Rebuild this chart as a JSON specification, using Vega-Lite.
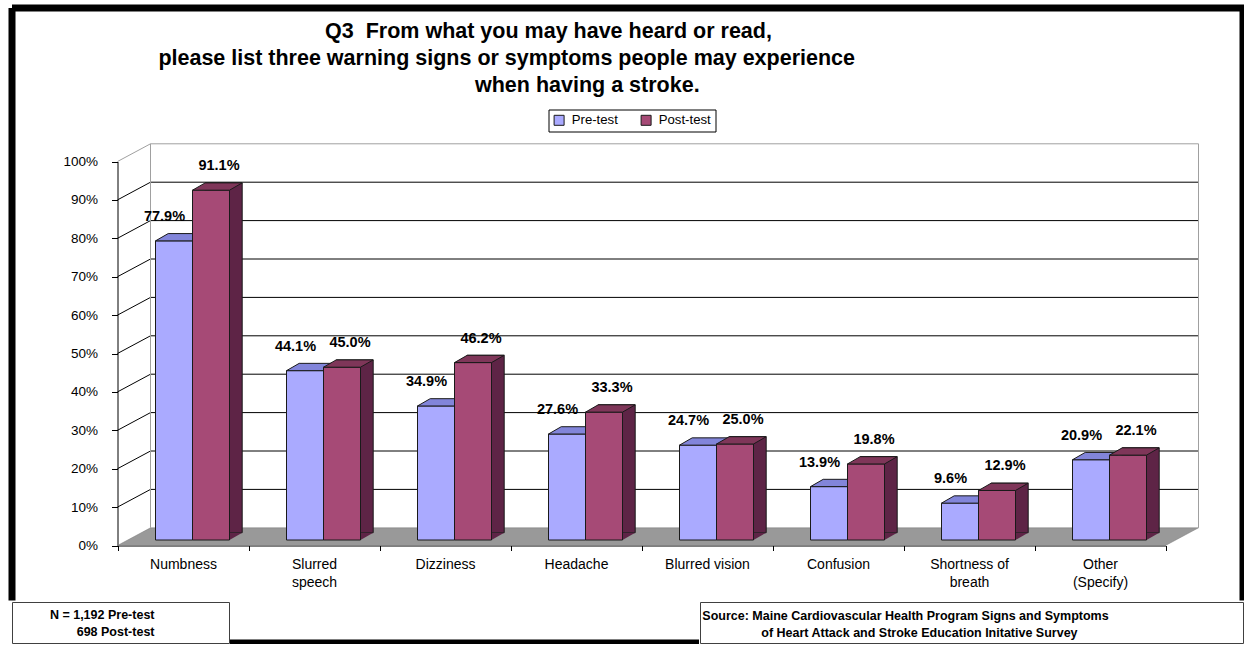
{
  "$schema": "https://vega.github.io/schema/vega-lite/v6.json",
  "background": "white",
  "padding": {"left": 8, "top": 4, "right": 0, "bottom": 0},
  "config": {"font": "Liberation Sans", "view": {"stroke": null}},
  "spacing": 0,
  "vconcat": [
    {
      "width": 1231,
      "height": 589,
      "view": {"fill": "white", "stroke": "black", "strokeWidth": 7, "strokeDash": [1823.5, 1224, 592.5, 0]},
      "title": {
        "text": [
          "Q3\u00a0 From what you may have heard or read,",
          "please list three warning signs or symptoms people may experience\u00a0\u00a0\u00a0\u00a0\u00a0\u00a0\u00a0\u00a0\u00a0\u00a0\u00a0\u00a0\u00a0\u00a0\u200b",
          "\u200b\u00a0\u00a0\u00a0\u00a0\u00a0\u00a0\u00a0\u00a0\u00a0\u00a0\u00a0\u00a0\u00a0when having a stroke."
        ],
        "frame": "group",
        "anchor": "middle",
        "orient": "top",
        "baseline": "top",
        "offset": -88,
        "dx": -79,
        "lineHeight": 27,
        "font": "Liberation Sans",
        "fontSize": 21.5,
        "fontWeight": "bold",
        "color": "black"
      },
      "layer": [
        {
          "data": {"values": [{"k": 1}]},
          "mark": {"type": "point", "shape": "M0,0 L33,-17.7 L1081,-17.7 L1048,0 Z", "size": 4, "filled": true, "fill": "#999999", "stroke": "#777777", "strokeWidth": 0.5, "opacity": 1},
          "encoding": {
            "x": {"datum": "Numbness", "bandPosition": 0, "type": "nominal", "scale": {"domain": ["Numbness", "Slurred speech", "Dizziness", "Headache", "Blurred vision", "Confusion", "Shortness of breath", "Other (Specify)"], "range": [105.5, 1153.5], "paddingInner": 0, "paddingOuter": 0}},
            "y": {"datum": 0, "type": "quantitative", "scale": {"domain": [0, 1], "range": [537.5, 153.5], "nice": false}}
          }
        },
        {
          "data": {"values": [{"pct": 0.1}, {"pct": 0.2}, {"pct": 0.3}, {"pct": 0.4}, {"pct": 0.5}, {"pct": 0.6}, {"pct": 0.7}, {"pct": 0.8}, {"pct": 0.9}, {"pct": 1.0}]},
          "mark": {"type": "rule", "xOffset": 33, "x2Offset": 33, "yOffset": -17.7, "strokeWidth": 1},
          "encoding": {
            "x": {"datum": "Numbness", "bandPosition": 0, "type": "nominal"},
            "x2": {"datum": "Other (Specify)", "bandPosition": 1},
            "y": {"field": "pct", "type": "quantitative"},
            "color": {"condition": {"test": "datum.pct >= 1", "value": "#a0a0a0"}, "value": "black"}
          }
        },
        {
          "data": {"values": [{"pct": 0.1}, {"pct": 0.2}, {"pct": 0.3}, {"pct": 0.4}, {"pct": 0.5}, {"pct": 0.6}, {"pct": 0.7}, {"pct": 0.8}, {"pct": 0.9}, {"pct": 1.0}]},
          "mark": {"type": "rule", "x2Offset": 33, "y2Offset": -17.7, "strokeWidth": 1},
          "encoding": {
            "x": {"datum": "Numbness", "bandPosition": 0, "type": "nominal"},
            "x2": {"datum": "Numbness", "bandPosition": 0},
            "y": {"field": "pct", "type": "quantitative"},
            "y2": {"field": "pct"},
            "color": {"condition": {"test": "datum.pct >= 1", "value": "#a0a0a0"}, "value": "black"}
          }
        },
        {
          "data": {"values": [{"k": 1}]},
          "mark": {"type": "rule", "xOffset": 33, "yOffset": -17.7, "y2Offset": -17.7, "color": "#a0a0a0", "strokeWidth": 1},
          "encoding": {
            "x": {"datum": "Numbness", "bandPosition": 0, "type": "nominal"},
            "y": {"datum": 0, "type": "quantitative"},
            "y2": {"datum": 1}
          }
        },
        {
          "data": {"values": [{"k": 1}]},
          "mark": {"type": "rule", "xOffset": 33, "yOffset": -17.7, "y2Offset": -17.7, "color": "#a0a0a0", "strokeWidth": 1},
          "encoding": {
            "x": {"datum": "Other (Specify)", "bandPosition": 1, "type": "nominal"},
            "y": {"datum": 0, "type": "quantitative"},
            "y2": {"datum": 1}
          }
        },
        {
          "data": {"name": "bars"},
          "transform": [{"filter": "datum.series == 'Pre-test'"}],
          "mark": {"type": "bar", "width": 37, "xOffset": -9, "yOffset": -5.5, "y2Offset": -5.5, "stroke": "#1a1a1a", "strokeWidth": 1},
          "encoding": {
            "x": {
              "field": "cat", "type": "nominal", "sort": null,
              "axis": {
                "title": null, "labelAngle": 0, "labelAlign": "center", "labelBaseline": "top", "domainColor": "black", "domainWidth": 1, "tickColor": "black", "tickSize": 5, "tickBand": "extent",
                "labelFont": "Liberation Sans", "labelFontSize": 14, "labelColor": "black", "labelPadding": 7, "labelLineHeight": 18, "labelOverlap": false,
                "labelExpr": "datum.label == 'Slurred speech' ? ['Slurred', 'speech'] : datum.label == 'Shortness of breath' ? ['Shortness of', 'breath'] : datum.label == 'Other (Specify)' ? ['Other', '(Specify)'] : datum.label",
                "offset": -51.5, "grid": false
              }
            },
            "y": {
              "field": "value", "type": "quantitative",
              "axis": {
                "title": null, "format": ".0%", "values": [0, 0.1, 0.2, 0.3, 0.4, 0.5, 0.6, 0.7, 0.8, 0.9, 1.0],
                "domainColor": "black", "tickColor": "black", "tickSize": 6, "labelPadding": 14,
                "labelFont": "Liberation Sans", "labelFontSize": 13.5, "labelColor": "black", "offset": -105.5, "grid": false
              }
            },
            "color": {
              "field": "series", "type": "nominal",
              "scale": {"domain": ["Pre-test", "Post-test"], "range": ["#AAAAFF", "#A64A76"]},
              "legend": {
                "orient": "none", "legendX": 536.5, "legendY": 101.5, "direction": "horizontal", "title": null,
                "strokeColor": "black", "fillColor": "white", "padding": 4,
                "symbolType": "square", "symbolSize": 100, "symbolStrokeColor": "black", "symbolStrokeWidth": 1, "symbolOpacity": 1,
                "labelFont": "Liberation Sans", "labelFontSize": 13.2, "labelColor": "black", "labelOffset": 6, "columnPadding": 20
              }
            }
          }
        },
        {
          "data": {"name": "bars"},
          "transform": [{"filter": "datum.series == 'Pre-test'"}],
          "mark": {"type": "point", "shape": "M-18.5,0 L18.5,0 L31.2,-7.3 L-5.8,-7.3 Z", "size": 4, "filled": true, "fill": "#8285DA", "stroke": "#1a1a1a", "strokeWidth": 1, "opacity": 1, "xOffset": -9, "yOffset": -5.5},
          "encoding": {
            "x": {"field": "cat", "type": "nominal"},
            "y": {"field": "value", "type": "quantitative"}
          }
        },
        {
          "data": {"name": "bars"},
          "transform": [{"filter": "datum.series == 'Post-test'"}],
          "mark": {"type": "bar", "width": 37, "xOffset": 40.7, "yOffset": -12.8, "y2Offset": -12.8, "fill": "#5E2446", "stroke": "#1a1a1a", "strokeWidth": 1},
          "encoding": {
            "x": {"field": "cat", "type": "nominal"},
            "y": {"field": "value", "type": "quantitative"}
          }
        },
        {
          "data": {"name": "bars"},
          "transform": [{"filter": "datum.series == 'Post-test'"}],
          "mark": {"type": "point", "shape": "M0,0 L0,-7.3 L12.7,-7.3 Z", "size": 4, "filled": true, "fill": "#5E2446", "strokeWidth": 0, "opacity": 1, "xOffset": 46.5, "yOffset": -5.5},
          "encoding": {
            "x": {"field": "cat", "type": "nominal"},
            "y": {"datum": 0, "type": "quantitative"}
          }
        },
        {
          "data": {"name": "bars"},
          "transform": [{"filter": "datum.series == 'Post-test'"}],
          "mark": {"type": "bar", "width": 37, "xOffset": 28, "yOffset": -5.5, "y2Offset": -5.5, "stroke": "#1a1a1a", "strokeWidth": 1},
          "encoding": {
            "x": {"field": "cat", "type": "nominal"},
            "y": {"field": "value", "type": "quantitative"},
            "color": {"field": "series", "type": "nominal"}
          }
        },
        {
          "data": {"name": "bars"},
          "transform": [{"filter": "datum.series == 'Post-test'"}],
          "mark": {"type": "point", "shape": "M-18.5,0 L18.5,0 L31.2,-7.3 L-5.8,-7.3 Z", "size": 4, "filled": true, "fill": "#7F3659", "stroke": "#1a1a1a", "strokeWidth": 1, "opacity": 1, "xOffset": 28, "yOffset": -5.5},
          "encoding": {
            "x": {"field": "cat", "type": "nominal"},
            "y": {"field": "value", "type": "quantitative"}
          }
        },
        {
          "data": {"name": "bars"},
          "transform": [{"filter": "datum.series == 'Pre-test'"}],
          "mark": {"type": "text", "xOffset": -18.5, "yOffset": -29.5, "baseline": "middle", "align": "center", "font": "Liberation Sans", "fontSize": 14.5, "fontWeight": "bold", "color": "black"},
          "encoding": {
            "x": {"field": "cat", "type": "nominal"},
            "y": {"field": "value", "type": "quantitative"},
            "text": {"field": "value", "type": "quantitative", "format": ".1%"}
          }
        },
        {
          "data": {"name": "bars"},
          "transform": [{"filter": "datum.series == 'Post-test'"}],
          "mark": {"type": "text", "xOffset": 36, "yOffset": -29.5, "baseline": "middle", "align": "center", "font": "Liberation Sans", "fontSize": 14.5, "fontWeight": "bold", "color": "black"},
          "encoding": {
            "x": {"field": "cat", "type": "nominal"},
            "y": {"field": "value", "type": "quantitative"},
            "text": {"field": "value", "type": "quantitative", "format": ".1%"}
          }
        }
      ]
    },
    {
      "spacing": 0,
      "hconcat": [
        {
          "width": 217,
          "height": 41,
          "view": {"fill": "white", "stroke": "#404040", "strokeWidth": 1},
          "data": {"values": [{"k": 1}]},
          "mark": {"type": "text", "text": ["N = 1,192 Pre-test", "698 Post-test"], "align": "right", "baseline": "middle", "dx": 34, "dy": -8, "lineHeight": 17, "font": "Liberation Sans", "fontSize": 12.5, "fontWeight": "bold", "color": "black"}
        },
        {
          "width": 469,
          "height": 42,
          "view": {"stroke": null},
          "data": {"values": [{"k": 1}]},
          "mark": {"type": "rect", "color": "black"},
          "encoding": {
            "x": {"datum": 0, "type": "quantitative", "scale": {"domain": [0, 1], "nice": false, "zero": false}, "axis": null},
            "x2": {"datum": 1},
            "y": {"datum": 0, "type": "quantitative", "scale": {"domain": [0, 9.5], "nice": false}, "axis": null},
            "y2": {"datum": 1}
          }
        },
        {
          "width": 543,
          "height": 41,
          "view": {"fill": "white", "stroke": "#404040", "strokeWidth": 1},
          "data": {"values": [{"k": 1}]},
          "mark": {"type": "text", "text": ["Source: Maine Cardiovascular Health Program Signs and Symptoms", "\u200b\u00a0\u00a0\u00a0\u00a0\u00a0\u00a0\u00a0\u00a0of Heart Attack and Stroke Education Initative Survey"], "align": "center", "baseline": "middle", "dx": -66, "dy": -7, "lineHeight": 17, "font": "Liberation Sans", "fontSize": 12.5, "fontWeight": "bold", "color": "black"}
        }
      ]
    }
  ],
  "datasets": {
    "bars": [
      {"cat": "Numbness", "series": "Pre-test", "value": 0.779},
      {"cat": "Slurred speech", "series": "Pre-test", "value": 0.441},
      {"cat": "Dizziness", "series": "Pre-test", "value": 0.349},
      {"cat": "Headache", "series": "Pre-test", "value": 0.276},
      {"cat": "Blurred vision", "series": "Pre-test", "value": 0.247},
      {"cat": "Confusion", "series": "Pre-test", "value": 0.139},
      {"cat": "Shortness of breath", "series": "Pre-test", "value": 0.096},
      {"cat": "Other (Specify)", "series": "Pre-test", "value": 0.209},
      {"cat": "Numbness", "series": "Post-test", "value": 0.911},
      {"cat": "Slurred speech", "series": "Post-test", "value": 0.450},
      {"cat": "Dizziness", "series": "Post-test", "value": 0.462},
      {"cat": "Headache", "series": "Post-test", "value": 0.333},
      {"cat": "Blurred vision", "series": "Post-test", "value": 0.250},
      {"cat": "Confusion", "series": "Post-test", "value": 0.198},
      {"cat": "Shortness of breath", "series": "Post-test", "value": 0.129},
      {"cat": "Other (Specify)", "series": "Post-test", "value": 0.221}
    ]
  }
}
